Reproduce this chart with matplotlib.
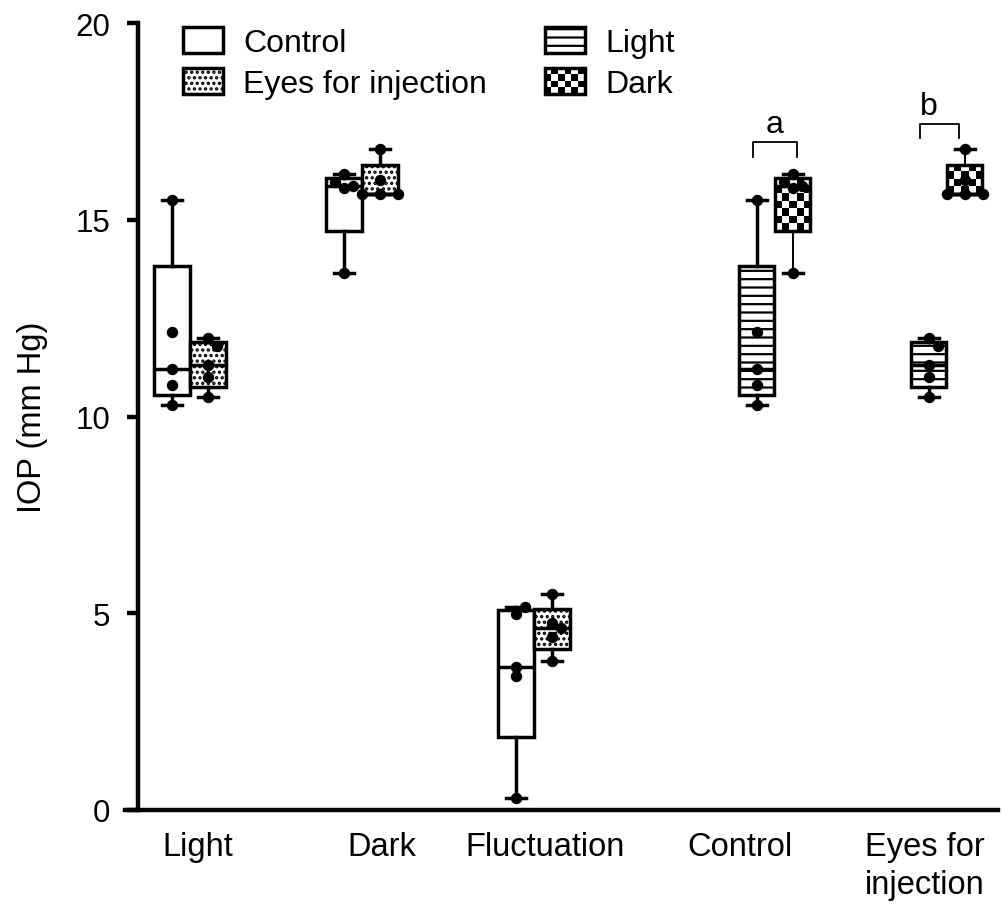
import numpy as np
import matplotlib
matplotlib.use('Agg')
import matplotlib.pyplot as plt
from matplotlib.patches import Rectangle, Patch
from matplotlib.legend_handler import HandlerBase

plt.rcParams['font.family'] = ['Liberation Sans', 'DejaVu Sans']
plt.rcParams['hatch.linewidth'] = 1.6

# IOP values (mm Hg), 5 eyes per box
ctrl_light = [15.5, 12.15, 11.2, 10.8, 10.3]
inj_light = [12.0, 11.8, 11.3, 11.0, 10.5]
ctrl_dark = [13.65, 15.8, 15.85, 15.95, 16.15]
inj_dark = [15.65, 15.65, 15.65, 16.0, 16.8]
ctrl_fluct = [0.3, 3.4, 3.63, 4.98, 5.16]
inj_fluct = [3.79, 4.4, 4.62, 4.75, 5.49]

tick_labels = ['Light', 'Dark', 'Fluctuation', 'Control', 'Eyes for\ninjection']
legend_labels = ['Control', 'Eyes for injection', 'Light', 'Dark']
sig_labels = ['a', 'b']

# layout
off = 0.105
bw = 0.205
label_pos = [1.047, 2.116, 3.064, 4.198, 5.273]
xlim = (0.622, 5.698)
ylim = (0, 20)
lw = 2.5

boxes = [
    (ctrl_light, 1 - off, 'plain'), (inj_light, 1 + off, 'dots'),
    (ctrl_dark, 2 - off, 'plain'), (inj_dark, 2 + off, 'dots'),
    (ctrl_fluct, 3 - off, 'plain'), (inj_fluct, 3 + off, 'dots'),
    (ctrl_light, 4.4 - off, 'lines'), (ctrl_dark, 4.4 + off, 'checker'),
    (inj_light, 5.4 - off, 'lines'), (inj_dark, 5.4 + off, 'checker'),
]


def prism_stats(vals):
    # quartiles as medians of lower / upper halves, whiskers min to max
    v = np.sort(np.asarray(vals, dtype=float))
    n = len(v)
    h = n // 2
    return dict(med=np.median(v), q1=np.median(v[:h]), q3=np.median(v[n - h:]),
                whislo=v.min(), whishi=v.max(), fliers=[])


fig = plt.figure(figsize=(10.04, 9.2), dpi=100)
ax = fig.add_axes([125 / 1004, 109 / 920, 873 / 1004, 787 / 920])
ax.set_xlim(*xlim)
ax.set_ylim(*ylim)

# pixels per data unit (for swarm spacing and checker cells)
xpx = 873 / (xlim[1] - xlim[0])
ypx = 787 / (ylim[1] - ylim[0])

stats = [prism_stats(b[0]) for b in boxes]
pos = [b[1] for b in boxes]
bp = ax.bxp(stats, positions=pos, widths=bw, capwidths=0.115, patch_artist=True,
            showfliers=False, manage_ticks=False,
            boxprops=dict(facecolor='white', edgecolor='black', lw=lw),
            medianprops=dict(color='black', lw=lw),
            whiskerprops=dict(color='black', lw=lw),
            capprops=dict(color='black', lw=lw))

for i, (vals, x, style) in enumerate(boxes):
    patch = bp['boxes'][i]
    if style == 'dots':
        patch.set_hatch('...')
    elif style == 'lines':
        patch.set_hatch('--')
    elif style == 'checker':
        patch.set_facecolor('none')
        st = stats[i]
        nrow = max(1, int(round((st['q3'] - st['q1']) * ypx / 7)))
        ncol = 5
        cells = np.indices((nrow, ncol)).sum(axis=0) % 2
        ax.imshow(cells, cmap='gray_r', interpolation='nearest', aspect='auto',
                  extent=(x - bw / 2, x + bw / 2, st['q1'], st['q3']), zorder=1.9)
        for w in bp['whiskers'][2 * i:2 * i + 2]:
            w.set_linewidth(1.4)


def swarm(vals, x, d=9):
    placed = []
    xs = []
    for v in vals:
        for k in [0, 1, -1, 2, -2]:
            cx = x + k * d / xpx
            if all(((cx - px) * xpx) ** 2 + ((v - py) * ypx) ** 2 >= d ** 2 for px, py in placed):
                break
        placed.append((cx, v))
        xs.append(cx)
    return xs


for vals, x, style in boxes:
    ax.plot(swarm(vals, x), vals, 'o', color='black', ms=7.2, ls='', zorder=4, clip_on=False)

ax.set_xlim(*xlim)
ax.set_ylim(*ylim)

# significance brackets
brackets = [(4.273, 4.529, 16.6, 16.97, 4.401, 17.23), (5.244, 5.471, 17.08, 17.43, 5.297, 17.69)]
for (x0, x1, y0, y1, tx, ty), lab in zip(brackets, sig_labels):
    ax.plot([x0, x0, x1, x1], [y0, y1, y1, y0], color='black', lw=1.3)
    ax.text(tx, ty, lab, ha='center', va='baseline', fontsize=23)

# axes styling
for s in ['top', 'right']:
    ax.spines[s].set_visible(False)
for s in ['left', 'bottom']:
    ax.spines[s].set_linewidth(3.2)
ax.spines['left'].set_position(('data', 0.698))
ax.set_yticks([0, 5, 10, 15, 20])
ax.tick_params(axis='y', length=7.9, width=3.2, pad=12, labelsize=22.5)
ax.set_xticks(label_pos)
ax.set_xticklabels(tick_labels, fontsize=23.5, linespacing=1.3)
ax.tick_params(axis='x', length=0, pad=15)
ax.set_ylabel('IOP (mm Hg)', fontsize=23.5)
ax.yaxis.set_label_coords(-0.088, 0.5)


class CheckerHandler(HandlerBase):
    def create_artists(self, legend, orig_handle, xdescent, ydescent, width, height, fontsize, trans):
        nx, ny = 6, 4
        w = width / nx
        h = height / ny
        arts = []
        for i in range(nx):
            for j in range(ny):
                if (i + j) % 2 == 0:
                    arts.append(Rectangle((-xdescent + i * w, -ydescent + j * h), w, h,
                                          facecolor='black', edgecolor='none', transform=trans))
        arts.append(Rectangle((-xdescent, -ydescent), width, height, facecolor='none',
                              edgecolor='black', lw=lw, transform=trans))
        return arts


class DarkKey:
    pass


handles = [Patch(facecolor='white', edgecolor='black', lw=lw),
           Patch(facecolor='white', edgecolor='black', lw=lw, hatch='...'),
           Patch(facecolor='white', edgecolor='black', lw=lw, hatch='--'),
           DarkKey()]
ax.legend(handles, legend_labels, handler_map={DarkKey: CheckerHandler()}, ncol=2,
          loc='upper left', bbox_to_anchor=(0.066, 0.995), borderaxespad=0, borderpad=0,
          frameon=False, fontsize=23, handlelength=1.25, handleheight=0.88,
          handletextpad=0.65, columnspacing=1.8, labelspacing=0.3)

fig.savefig('out.png', dpi=100)
